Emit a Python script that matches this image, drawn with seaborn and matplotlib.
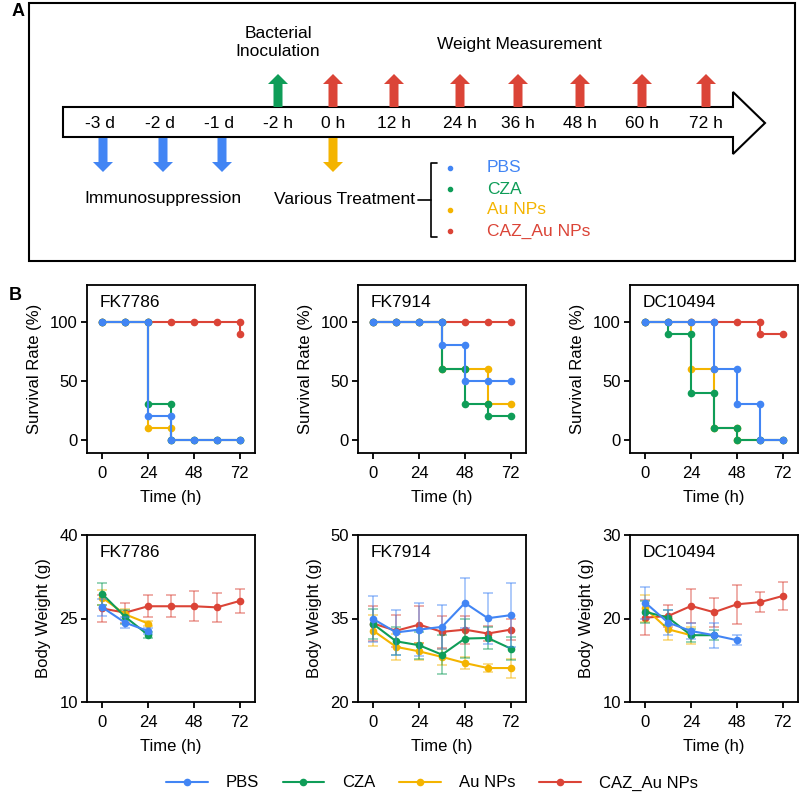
import numpy as np
import matplotlib
matplotlib.use('Agg')
import matplotlib.pyplot as plt
from matplotlib.patches import Polygon, Rectangle
from matplotlib.lines import Line2D
import seaborn as sns


# Data
times = [0, 12, 24, 36, 48, 60, 72]
groups = ['PBS', 'CZA', 'Au NPs', 'CAZ_Au NPs']
strains = ['FK7786', 'FK7914', 'DC10494']

# survival rate (%) at each time point
surv_fk7786 = {
    'PBS':        [100, 100, 20, 0, 0, 0, 0],
    'CZA':        [100, 100, 30, 0, 0, 0, 0],
    'Au NPs':     [100, 100, 10, 0, 0, 0, 0],
    'CAZ_Au NPs': [100, 100, 100, 100, 100, 100, 90],
}
surv_fk7914 = {
    'PBS':        [100, 100, 100, 80, 50, 50, 50],
    'CZA':        [100, 100, 100, 60, 30, 20, 20],
    'Au NPs':     [100, 100, 100, 60, 60, 30, 30],
    'CAZ_Au NPs': [100, 100, 100, 100, 100, 100, 100],
}
surv_dc10494 = {
    'PBS':        [100, 100, 100, 60, 30, 0, 0],
    'CZA':        [100, 90, 40, 10, 0, 0, 0],
    'Au NPs':     [100, 100, 60, 10, 0, 0, 0],
    'CAZ_Au NPs': [100, 100, 100, 100, 100, 90, 90],
}

# body weight (g), mean and SD, for surviving time points
wt_fk7786_mean = {
    'PBS':        [27.0, 24.25, 22.75],
    'CZA':        [29.4, 25.3, 22.05],
    'Au NPs':     [28.75, 25.75, 24.1],
    'CAZ_Au NPs': [26.8, 26.05, 27.2, 27.2, 27.2, 27.0, 28.15],
}
wt_fk7786_sd = {
    'PBS':        [1.5, 1.0, 0.6],
    'CZA':        [1.9, 1.2, 0.5],
    'Au NPs':     [1.3, 1.0, 0.5],
    'CAZ_Au NPs': [2.4, 1.8, 2.0, 2.0, 2.7, 2.6, 2.1],
}
wt_fk7914_mean = {
    'PBS':        [34.9, 32.5, 33.0, 33.5, 37.8, 35.05, 35.6],
    'CZA':        [34.0, 30.9, 30.2, 28.5, 31.4, 31.5, 29.6],
    'Au NPs':     [32.8, 29.9, 29.1, 28.1, 27.0, 26.1, 26.1],
    'CAZ_Au NPs': [34.1, 32.8, 33.9, 32.6, 33.0, 32.3, 33.0],
}
wt_fk7914_sd = {
    'PBS':        [4.1, 4.1, 4.8, 4.0, 4.5, 4.6, 5.7],
    'CZA':        [2.7, 2.5, 2.4, 3.5, 3.5, 2.0, 2.0],
    'Au NPs':     [2.8, 2.4, 1.5, 1.5, 1.0, 0.7, 1.7],
    'CAZ_Au NPs': [3.1, 2.9, 3.3, 2.9, 2.5, 1.3, 1.9],
}
wt_dc10494_mean = {
    'PBS':        [21.9, 19.5, 18.5, 18.0, 17.4],
    'CZA':        [20.8, 20.1, 18.0, 18.0],
    'Au NPs':     [21.2, 18.7, 18.0],
    'CAZ_Au NPs': [20.1, 20.3, 21.5, 20.75, 21.7, 21.95, 22.7],
}
wt_dc10494_sd = {
    'PBS':        [1.9, 1.5, 1.0, 1.5, 0.6],
    'CZA':        [1.3, 0.9, 0.8, 0.6],
    'Au NPs':     [1.6, 1.3, 1.0],
    'CAZ_Au NPs': [2.1, 1.3, 2.0, 1.75, 2.3, 1.2, 1.7],
}

timeline_labels = ['-3 d', '-2 d', '-1 d', '-2 h', '0 h', '12 h', '24 h',
                   '36 h', '48 h', '60 h', '72 h']

# Style
colors = {'PBS': '#4285F4', 'CZA': '#0F9D58',
          'Au NPs': '#F4B400', 'CAZ_Au NPs': '#DB4437'}
draw_order = ['CAZ_Au NPs', 'Au NPs', 'CZA', 'PBS']   # PBS on top
weight_ylim = [(10, 40), (20, 50), (10, 30)]
weight_ticks = [[10, 25, 40], [20, 35, 50], [10, 20, 30]]

sns.set_style('ticks')
plt.rcParams['font.family'] = ['Liberation Sans', 'DejaVu Sans']
plt.rcParams['text.color'] = 'black'
plt.rcParams['axes.labelcolor'] = 'black'
plt.rcParams['xtick.color'] = 'black'
plt.rcParams['ytick.color'] = 'black'

W, H = 800, 793
fig = plt.figure(figsize=(W / 100, H / 100), dpi=100)


# Panel A : schematic (pixel coordinates)
axA = fig.add_axes([0, 0, 1, 1])
axA.set_xlim(0, W); axA.set_ylim(H, 0); axA.axis('off')

axA.add_patch(Rectangle((29, 3), 766, 258, fill=False, ec='black', lw=1.5))
axA.add_patch(Polygon([(63, 107), (733, 107), (733, 92), (765, 123),
                       (733, 154), (733, 137), (63, 137)],
                      closed=True, fc='white', ec='black', lw=1.5))

tl_x = [100, 160, 219, 278, 333, 394, 460, 518, 580, 642, 706]
for x, lab in zip(tl_x, timeline_labels):
    axA.text(x, 124, lab, ha='center', va='center', fontsize=12.5)

arrow_kw = dict(width=9, head_width=20, head_length=10,
                length_includes_head=True, lw=0)
# up arrows: inoculation + weight measurements
axA.arrow(tl_x[3], 107, 0, -33, color=colors['CZA'], **arrow_kw)
for x in tl_x[4:]:
    axA.arrow(x, 107, 0, -33, color=colors['CAZ_Au NPs'], **arrow_kw)
# down arrows: immunosuppression + treatment
for x in tl_x[:3]:
    axA.arrow(x + 3, 138, 0, 34, color=colors['PBS'], **arrow_kw)
axA.arrow(tl_x[4], 138, 0, 34, color=colors['Au NPs'], **arrow_kw)

axA.text(tl_x[3], 43, 'Bacterial\nInoculation', ha='center', va='center',
         fontsize=12.5, linespacing=1.25)
axA.text(519, 44, 'Weight Measurement', ha='center', va='center', fontsize=12.5)
axA.text(163, 199, 'Immunosuppression', ha='center', va='center', fontsize=12.5)
axA.text(415, 199, 'Various Treatment', ha='right', va='center', fontsize=12.5)

# bracket with treatment groups
axA.plot([418, 431], [200, 200], color='black', lw=1.2)
axA.plot([437, 431, 431, 437], [163, 163, 237, 237], color='black', lw=1.2)
for i, g in enumerate(groups):
    y = 168 + i * 21
    axA.plot(450, y, 'o', color=colors[g], ms=3)
    axA.text(487, y, g, color=colors[g], ha='left', va='center', fontsize=12.5)

fig.text(12 / W, 1 - 12 / H, 'A', fontsize=13, fontweight='bold',
         ha='left', va='center')
fig.text(9 / W, 1 - 296 / H, 'B', fontsize=13, fontweight='bold',
         ha='left', va='center')


# Panel B
def step_path(vals):
    """Vertices of a Kaplan-Meier style step curve."""
    xs, ys = [times[0]], [vals[0]]
    for t, prev, cur in zip(times[1:], vals[:-1], vals[1:]):
        if cur != prev:
            xs.append(t); ys.append(prev)
        xs.append(t); ys.append(cur)
    return xs, ys


def style_axes(ax, name):
    for s in ax.spines.values():
        s.set_visible(True)
        s.set_linewidth(1.3)
        s.set_color('black')
    ax.tick_params(axis='both', direction='out', length=4.5, width=1.3,
                   labelsize=12, pad=2, colors='black')
    ax.tick_params(axis='x', pad=5)
    ax.set_xlim(-8, 80)
    ax.set_xticks([0, 24, 48, 72])
    ax.set_xlabel('Time (h)', fontsize=12, labelpad=6)
    ax.text(0.075, 0.895, name, transform=ax.transAxes, fontsize=12.5,
            ha='left', va='center')
    ax.grid(False)


col_left = [87, 358, 630]
ax_w = 168
surv_sets = [surv_fk7786, surv_fk7914, surv_dc10494]
wt_means = [wt_fk7786_mean, wt_fk7914_mean, wt_dc10494_mean]
wt_sds = [wt_fk7786_sd, wt_fk7914_sd, wt_dc10494_sd]

for j, strain in enumerate(strains):
    # survival
    ax = fig.add_axes([col_left[j] / W, 1 - 453 / H, ax_w / W, 168 / H])
    for g in draw_order:
        xs, ys = step_path(surv_sets[j][g])
        sns.lineplot(x=xs, y=ys, sort=False, estimator=None, color=colors[g],
                     marker='o', markersize=5.5, markeredgewidth=0,
                     linewidth=1.5, ax=ax)
    ax.set_ylim(-11, 131)
    ax.set_yticks([0, 50, 100])
    ax.set_ylabel('Survival Rate (%)', fontsize=12, labelpad=6)
    style_axes(ax, strain)

    # body weight
    ax = fig.add_axes([col_left[j] / W, 1 - 702 / H, ax_w / W, 167 / H])
    for g in draw_order:
        m = wt_means[j][g]
        sd = wt_sds[j][g]
        t = times[:len(m)]
        ax.errorbar(t, m, yerr=sd, fmt='none', ecolor=colors[g], alpha=0.5,
                    elinewidth=1.2, capsize=3.5, capthick=1.2)
        sns.lineplot(x=t, y=m, sort=False, estimator=None, color=colors[g],
                     marker='o', markersize=5.5, markeredgewidth=0,
                     linewidth=1.5, ax=ax)
    ax.set_ylim(*weight_ylim[j])
    ax.set_yticks(weight_ticks[j])
    ax.set_ylabel('Body Weight (g)', fontsize=12, labelpad=6)
    style_axes(ax, strain)

handles = [Line2D([0], [0], color=colors[g], lw=1.5, marker='o', ms=5.5,
                  markeredgewidth=0) for g in groups]
fig.legend(handles, groups, loc='center', bbox_to_anchor=(432 / W, 1 - 783 / H),
           ncol=4, frameon=False, fontsize=12, handlelength=2.5,
           handletextpad=1.1, columnspacing=1.4)

fig.savefig('out.png', dpi=100)
